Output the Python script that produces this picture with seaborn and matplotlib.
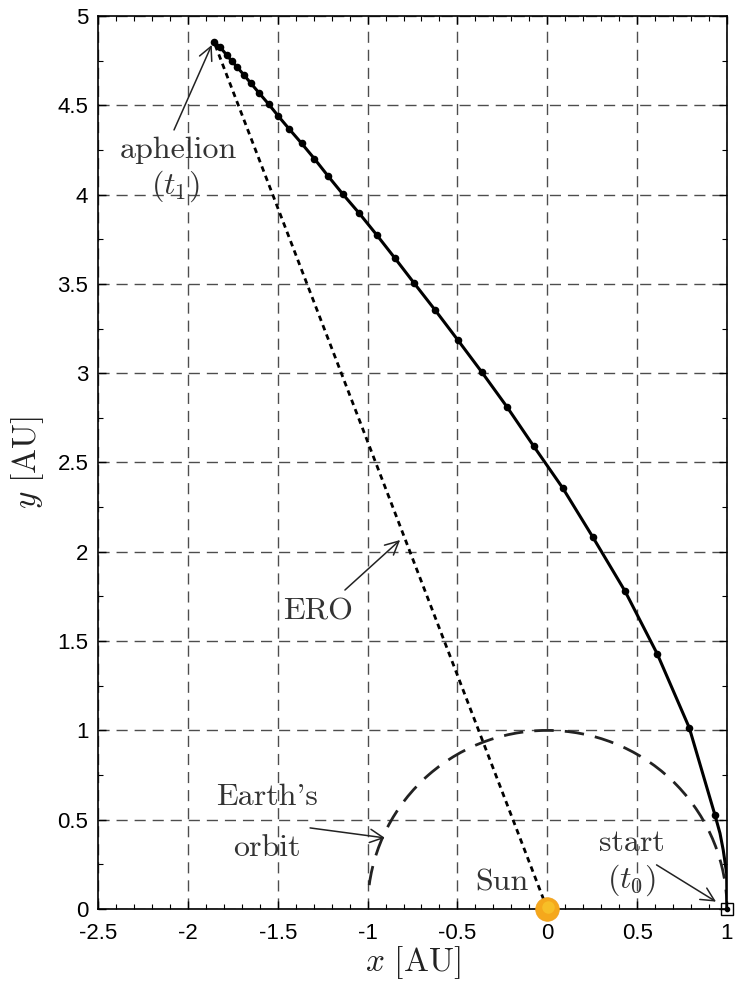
import numpy as np
import pandas as pd
import matplotlib
matplotlib.use("Agg")
import matplotlib.pyplot as plt
from matplotlib.patches import Arc
import seaborn as sns

# ---- data ----
# dots along the trajectory (start excluded, start is the square marker)
dot_x = [0.933, 0.790, 0.612, 0.433, 0.253, 0.086, -0.076, -0.224, -0.365,
         -0.498, -0.623, -0.740, -0.847, -0.949, -1.046, -1.138, -1.220, -1.296,
         -1.367, -1.436, -1.497, -1.550, -1.602, -1.649, -1.688, -1.725, -1.756,
         -1.784, -1.821, -1.855]
dot_y = [0.526, 1.015, 1.428, 1.779, 2.083, 2.357, 2.592, 2.811, 3.007,
         3.186, 3.352, 3.503, 3.643, 3.774, 3.895, 4.003, 4.104, 4.201, 4.287,
         4.367, 4.440, 4.506, 4.567, 4.623, 4.670, 4.713, 4.748, 4.782, 4.826,
         4.856]
# vertices of the trajectory line (read on the curve)
line_x = [1.000, 0.998, 0.979, 0.961, 0.933, 0.790, 0.612,
          0.433, 0.253, 0.086, -0.076, -0.224, -0.365, -0.498, -0.623, -0.740,
          -0.847, -0.949, -1.046, -1.138, -1.220, -1.296, -1.367, -1.436, -1.497,
          -1.550, -1.602, -1.649, -1.688, -1.725, -1.756, -1.784, -1.821, -1.855]
line_y = [0.000, 0.200, 0.330, 0.424, 0.526, 1.015, 1.428,
          1.779, 2.083, 2.357, 2.592, 2.811, 3.007, 3.186, 3.352, 3.503,
          3.643, 3.774, 3.895, 4.003, 4.104, 4.201, 4.287, 4.367, 4.440,
          4.506, 4.567, 4.623, 4.670, 4.713, 4.748, 4.782, 4.826, 4.856]

ero_x = [0.0, -1.855]
ero_y = [0.0, 4.856]

earth_radius = 1.0
earth_theta = (0.0, 175.0)

sun_xy = (0.0, 0.0)
start_xy = (1.0, 0.0)

xticks = [-2.5, -2, -1.5, -1, -0.5, 0, 0.5, 1]
xticklabels = ["-2.5", "-2", "-1.5", "-1", "-0.5", "0", "0.5", "1"]
yticks = [0, 0.5, 1, 1.5, 2, 2.5, 3, 3.5, 4, 4.5, 5]
yticklabels = ["0", "0.5", "1", "1.5", "2", "2.5", "3", "3.5", "4", "4.5", "5"]

# ---- style ----
sns.set_theme(style="ticks")
plt.rcParams["font.family"] = ["Liberation Sans", "DejaVu Sans"]
plt.rcParams["mathtext.fontset"] = "cm"

fig = plt.figure(figsize=(7.39, 9.91), dpi=100)
ax = fig.add_axes([98 / 739, 1 - 909 / 991, 629 / 739, 893 / 991])

ax.set_xlim(-2.5, 1.0)
ax.set_ylim(0, 5)

# grid
ax.set_xticks(xticks)
ax.set_xticklabels(xticklabels)
ax.set_yticks(yticks)
ax.set_yticklabels(yticklabels)
ax.grid(True, which="major", color="0.3", linestyle=(0, (8, 5)), linewidth=1.0)
ax.set_axisbelow(True)

ax.set_xticks(np.arange(-2.5, 1.0001, 0.1), minor=True)
ax.set_yticks(np.arange(0, 5.0001, 0.25), minor=True)
ax.tick_params(which="both", direction="in", top=True, right=True,
               colors="black", labelcolor="black")
ax.tick_params(which="major", length=6, width=1.0, labelsize=16, pad=7)
ax.tick_params(axis="x", which="major", pad=10)
ax.tick_params(which="minor", length=3.5, width=0.8)
for s in ax.spines.values():
    s.set_visible(True)
    s.set_color("black")
    s.set_linewidth(1.2)

# Earth's orbit
ax.add_patch(Arc((0, 0), 2 * earth_radius, 2 * earth_radius, theta1=earth_theta[0],
                 theta2=earth_theta[1], color="#222222", lw=2.0,
                 linestyle=(0, (7, 4)), zorder=3))

# ERO straight dotted line
ax.plot(ero_x, ero_y, color="black", lw=2.0, linestyle=(0, (2, 1.6)), zorder=3)

# trajectory line + dots
df_line = pd.DataFrame({"x": line_x, "y": line_y})
sns.lineplot(data=df_line, x="x", y="y", sort=False, color="black", lw=2.2,
             ax=ax, zorder=4)
df_dots = pd.DataFrame({"x": dot_x, "y": dot_y})
sns.scatterplot(data=df_dots, x="x", y="y", color="black", s=30, edgecolor="black",
                linewidth=0, ax=ax, zorder=5)

# start marker
ax.plot([start_xy[0]], [start_xy[1]], marker="s", ms=9, mfc="none", mec="black",
        mew=1.0, clip_on=False, zorder=6)
ax.plot([start_xy[0]], [start_xy[1]], marker="o", ms=3, color="black",
        clip_on=False, zorder=6)

# Sun
ax.plot([sun_xy[0]], [sun_xy[1]], marker="o", ms=17, mfc="#f5a81c", mec="#f0a020",
        mew=0.5, clip_on=False, zorder=7)
ax.plot([sun_xy[0] + 0.005], [sun_xy[1] + 0.01], marker="o", ms=9, mfc="#f8c52a",
        mec="none", clip_on=False, zorder=7, alpha=0.8)

# labels
ax.set_xlabel(r"$x\ \mathrm{[AU]}$", fontsize=24, labelpad=0, color="#222222")
ax.set_ylabel(r"$y\ \mathrm{[AU]}$", fontsize=24, labelpad=8, color="#222222")

tcol = "#333333"
akw = dict(arrowstyle="->,head_length=0.8,head_width=0.4", color="#222222", lw=1.1,
           shrinkA=0, shrinkB=0)
fs = 23
tkw = dict(fontsize=fs, ha="center", va="center", color=tcol)

ax.annotate("", xy=(-1.867, 4.838), xytext=(-2.077, 4.362), arrowprops=akw)
ax.text(-2.053, 4.25, "aphelion", family="cmr10", **tkw)
ax.text(-2.072, 4.044, r"$(t_1)$", **tkw)

ax.annotate("", xy=(-0.819, 2.066), xytext=(-1.126, 1.786), arrowprops=akw)
ax.text(-1.276, 1.663, "ERO", family="cmr10", **tkw)

ax.annotate("", xy=(-0.903, 0.398), xytext=(-1.32, 0.454), arrowprops=akw)
ax.text(-1.56, 0.627, "Earth's", family="cmr10", **tkw)
ax.text(-1.56, 0.342, "orbit", family="cmr10", **tkw)

ax.text(-0.254, 0.146, "Sun", family="cmr10", **tkw)

ax.annotate("", xy=(0.939, 0.041), xytext=(0.608, 0.247), arrowprops=akw)
ax.text(0.47, 0.368, "start", family="cmr10", **tkw)
ax.text(0.47, 0.162, r"$(t_0)$", **tkw)

fig.savefig("out.png", dpi=100)
